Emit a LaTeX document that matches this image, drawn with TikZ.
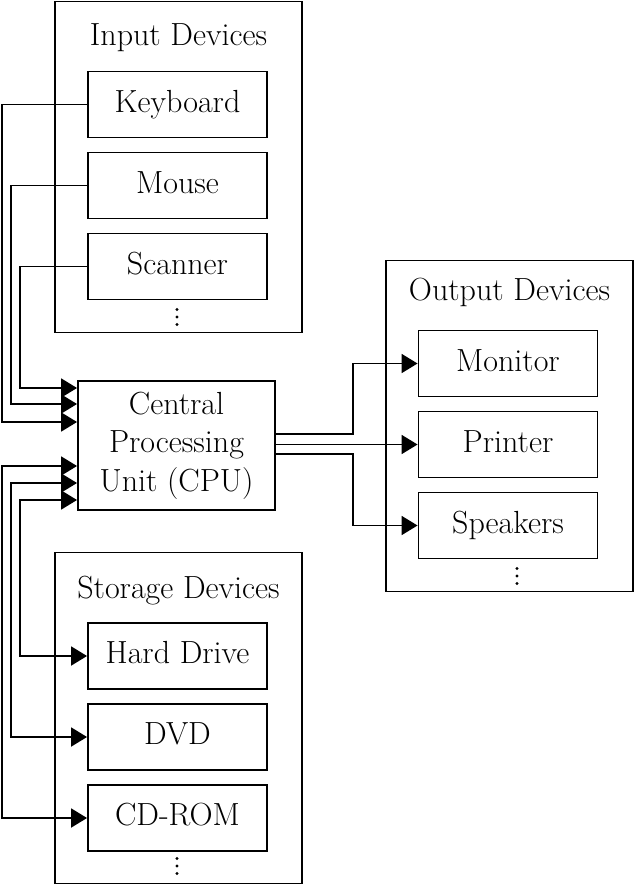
\documentclass[tikz,border=0pt]{standalone}
\usetikzlibrary{arrows.meta,calc}
\begin{document}
\begin{tikzpicture}[x=1pt,y=-1pt,line width=1.9pt,
  frame/.style={draw,rectangle,inner sep=0pt,minimum width=247pt,minimum height=331pt},
  dev/.style={draw,rectangle,inner sep=0pt,minimum width=179pt,minimum height=66pt,
    font=\fontsize{32}{38}\selectfont,text height=22pt,text depth=7pt},
  head/.style={anchor=base,inner sep=0pt,font=\fontsize{32}{38}\selectfont},
  cpubox/.style={draw,rectangle,inner sep=0pt,minimum width=197pt,minimum height=129pt,
    align=center,font=\fontsize{32}{38.5}\selectfont},
  dot/.style={fill,circle,inner sep=0pt,minimum size=3.4pt},
  tip/.style={-{Triangle[length=16pt,width=19pt]}},
  tips/.style={{Triangle[length=16pt,width=19pt]}-{Triangle[length=16pt,width=19pt]}}]
\useasboundingbox (0,0) rectangle (634,886);
% frames
\node[frame] (inframe) at (178.5,167) {};
\node[frame] (outframe) at (509.5,426) {};
\node[frame] (stframe) at (178.5,718) {};
\node[head] (inhead) at (178.5,45) {Input Devices};
\node[head] (outhead) at (509.5,300) {Output Devices};
\node[head] (sthead) at (178.5,598) {Storage Devices};
% input devices
\node[dev] (kb) at (177.5,104.5) {Keyboard};
\node[dev] (mouse) at (177.5,185.5) {Mouse};
\node[dev] (scan) at (177.5,266.5) {Scanner};
\node[dot] (id1) at (177,309.5) {};
\node[dot] (id2) at (177,317) {};
\node[dot] (id3) at (177,324.5) {};
% output devices
\node[dev] (mon) at (508,363.5) {Monitor};
\node[dev] (prn) at (508,444.5) {Printer};
\node[dev] (spk) at (508,525.5) {Speakers};
\node[dot] (od1) at (517,568.5) {};
\node[dot] (od2) at (517,576) {};
\node[dot] (od3) at (517,583.5) {};
% storage devices
\node[dev] (hd) at (177.5,656) {Hard Drive};
\node[dev] (dvd) at (177.5,737) {DVD};
\node[dev] (cd) at (177.5,818) {CD-ROM};
\node[dot] (sd1) at (177,858.5) {};
\node[dot] (sd2) at (177,866) {};
\node[dot] (sd3) at (177,873.5) {};
% CPU
\node[cpubox] (cpu) at (176.5,445.5) {Central\\Processing\\Unit (CPU)};
% input connectors
\draw[tip] (kb.west) -- (2,104.5) |- ($(cpu.west)+(0,-23.5)$);
\draw[tip] (mouse.west) -- (11,185.5) |- ($(cpu.west)+(0,-41.5)$);
\draw[tip] (scan.west) -- (20,266.5) |- ($(cpu.west)+(0,-57.5)$);
% storage connectors
\draw[tips] ($(cpu.west)+(0,20.5)$) -- (2,466) |- (cd.west);
\draw[tips] ($(cpu.west)+(0,37.5)$) -- (11,483) |- (dvd.west);
\draw[tips] ($(cpu.west)+(0,54.5)$) -- (20,500) |- (hd.west);
% output connectors
\draw[tip] ($(cpu.east)+(0,-11.5)$) -- (353,434) |- (mon.west);
\draw[tip] (cpu.east |- prn.west) -- (prn.west);
\draw[tip] ($(cpu.east)+(0,8.5)$) -- (353,454) |- (spk.west);
\end{tikzpicture}
\end{document}
